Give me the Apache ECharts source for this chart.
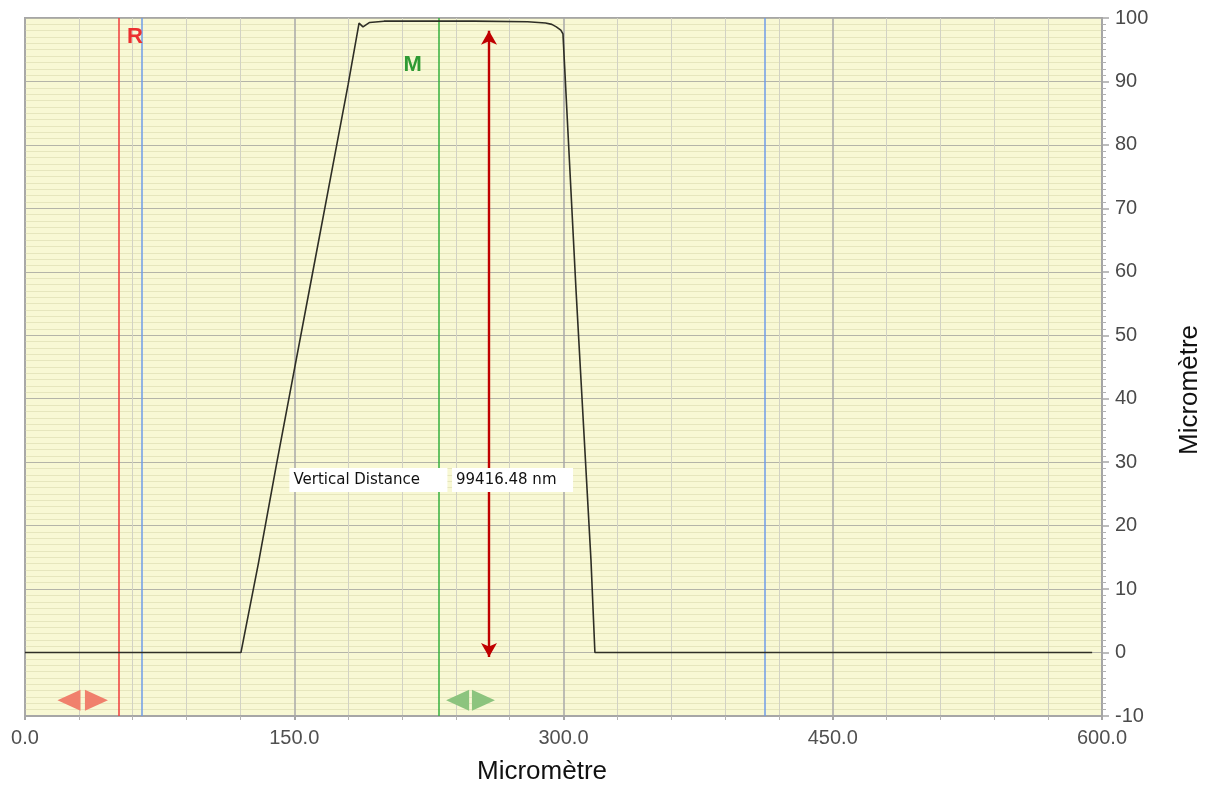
<!DOCTYPE html>
<html>
<head>
<meta charset="utf-8">
<script src="https://cdn.jsdelivr.net/npm/echarts@6/dist/echarts.min.js"></script>
<style>html,body{margin:0;padding:0;background:#fff}#c{width:1205px;height:785px}</style>
</head>
<body>
<div id="c"></div>
<script>
// Profile data (x in Micromètre, y in Micromètre)
const profileX = [0, 120.3, 130, 140, 150, 160, 170, 180, 186.1, 188.3, 192, 200, 250, 280, 290, 293.5, 296, 298.5, 299.7, 307, 315.3, 317.5, 594.5];
const profileY = [0, 0, 14, 29.5, 44.5, 59.5, 74.5, 89.5, 99.2, 98.6, 99.3, 99.5, 99.5, 99.4, 99.2, 99.0, 98.6, 98.1, 97.5, 57, 14.6, 0, 0];
// Cursor lines
const cursorR = 52;
const cursorM = 230.6;
const blueLines = [65, 412.3];
// Vertical distance arrow
const arrowX = 258.5;
const arrowFrom = -0.7;
const arrowTo = 98;
// Labels
const labelR = [61.3, 97];
const labelM = [216, 92.6];
const handlesR = [24.5, 39.8];
const handlesM = [241, 255.4];
const handleY = -7.5;
const infoCaption = 'Vertical Distance';
const infoValue = '99416.48 nm';
const infoAnchor1 = [147.3, 27.2];
const infoAnchor2 = [237.9, 27.2];
const xTicks = { min: 0, max: 600, interval: 150 };
const yTicks = { min: -10, max: 100, interval: 10 };
const axisTitle = 'Micromètre';

const chart = echarts.init(document.getElementById('c'));
const profile = profileX.map((x, i) => [x, profileY[i]]);
const solid = (color, width) => ({ color, width, type: 'solid', opacity: 1 });

const option = {
  animation: false,
  backgroundColor: '#ffffff',
  grid: {
    left: 25, right: 103, top: 18, bottom: 69,
    show: true, backgroundColor: '#f8f8d4', borderColor: '#a6a6a6', borderWidth: 2
  },
  xAxis: {
    type: 'value', min: xTicks.min, max: xTicks.max, interval: xTicks.interval,
    axisLine: { show: true, onZero: false, lineStyle: { color: '#a6a6a6', width: 2 } },
    axisTick: { show: true, inside: false, length: 4, lineStyle: { color: '#a6a6a6', width: 2 } },
    minorTick: { show: true, splitNumber: 5, length: 4, lineStyle: { color: '#b4b4b4', width: 1 } },
    axisLabel: { color: '#505050', fontSize: 20, fontFamily: 'Liberation Sans, Arial', margin: 12, formatter: v => v.toFixed(1) },
    splitLine: { show: true, lineStyle: { color: '#a8a8a8', width: 1.5 } },
    minorSplitLine: { show: true, lineStyle: { color: '#d2d2c4', width: 1 } }
  },
  yAxis: {
    type: 'value', position: 'right', min: yTicks.min, max: yTicks.max, interval: yTicks.interval,
    axisLine: { show: true, onZero: false, lineStyle: { color: '#a6a6a6', width: 2 } },
    axisTick: { show: true, inside: false, length: 7, lineStyle: { color: '#a6a6a6', width: 1.5 } },
    minorTick: { show: true, splitNumber: 10, length: 4, lineStyle: { color: '#b0b0b0', width: 1 } },
    axisLabel: { color: '#4a4a4a', fontSize: 20, fontFamily: 'Liberation Sans, Arial', margin: 13 },
    splitLine: { show: true, lineStyle: { color: '#b4b4a8', width: 1.2 } },
    minorSplitLine: { show: true, lineStyle: { color: '#e6e6bd', width: 1 } }
  },
  series: [
    {
      type: 'line', data: profile, showSymbol: false, symbol: 'none', z: 5,
      lineStyle: { color: '#2e2e26', width: 1.6 },
      markLine: {
        silent: true, symbol: 'none', label: { show: false }, z: 3,
        emphasis: { disabled: true },
        data: [
          { xAxis: blueLines[0], lineStyle: solid('#6f9de8', 1.5) },
          { xAxis: blueLines[1], lineStyle: solid('#6f9de8', 1.5) },
          { xAxis: cursorR, lineStyle: solid('#f03c3c', 1.5) },
          { xAxis: cursorM, lineStyle: solid('#36b03e', 1.5) }
        ]
      }
    },
    {
      type: 'line', data: [], z: 6,
      markLine: {
        silent: true, symbol: ['arrow', 'arrow'], symbolSize: [12, 14], label: { show: false },
        emphasis: { disabled: true },
        lineStyle: solid('#c00000', 2.4),
        itemStyle: { color: '#c00000' },
        data: [[{ coord: [arrowX, arrowFrom] }, { coord: [arrowX, arrowTo] }]]
      }
    },
    {
      type: 'scatter', symbolSize: 0, z: 7, itemStyle: { opacity: 1 },
      data: [
        { value: labelR, label: { show: true, formatter: 'R', color: '#ec3030', fontSize: 22, fontWeight: 'bold', fontFamily: 'Liberation Sans, Arial', position: 'inside' } },
        { value: labelM, label: { show: true, formatter: 'M', color: '#2f9a34', fontSize: 22, fontWeight: 'bold', fontFamily: 'Liberation Sans, Arial', position: 'inside' } }
      ]
    },
    {
      type: 'scatter', symbol: 'triangle', z: 7, symbolSize: [21, 23],
      data: [
        { value: [handlesR[0], handleY], symbolRotate: 90, itemStyle: { color: '#f0806c', opacity: 1 } },
        { value: [handlesR[1], handleY], symbolRotate: -90, itemStyle: { color: '#f0806c', opacity: 1 } },
        { value: [handlesM[0], handleY], symbolRotate: 90, itemStyle: { color: '#8cc47e', opacity: 1 } },
        { value: [handlesM[1], handleY], symbolRotate: -90, itemStyle: { color: '#8cc47e', opacity: 1 } }
      ]
    },
    {
      type: 'scatter', symbolSize: 0, z: 8, itemStyle: { opacity: 1 },
      data: [
        { value: infoAnchor1, label: { show: true, position: 'right', distance: 0, formatter: infoCaption, backgroundColor: '#ffffff', color: '#111', fontSize: 15, fontFamily: 'DejaVu Sans', width: 150, height: 16, padding: [4, 4], lineHeight: 16 } },
        { value: infoAnchor2, label: { show: true, position: 'right', distance: 0, formatter: infoValue, backgroundColor: '#ffffff', color: '#111', fontSize: 15, fontFamily: 'DejaVu Sans', width: 113, height: 16, padding: [4, 4], lineHeight: 16 } }
      ]
    }
  ],
  graphic: [
    { type: 'text', left: 477, top: 759, style: { text: axisTitle, fill: '#111', font: '26px "Liberation Sans", Arial' } },
    { type: 'text', x: 1177, y: 455, rotation: Math.PI / 2, style: { text: axisTitle, fill: '#111', font: '26px "Liberation Sans", Arial' } }
  ]
};
chart.setOption(option);
</script>
</body>
</html>
